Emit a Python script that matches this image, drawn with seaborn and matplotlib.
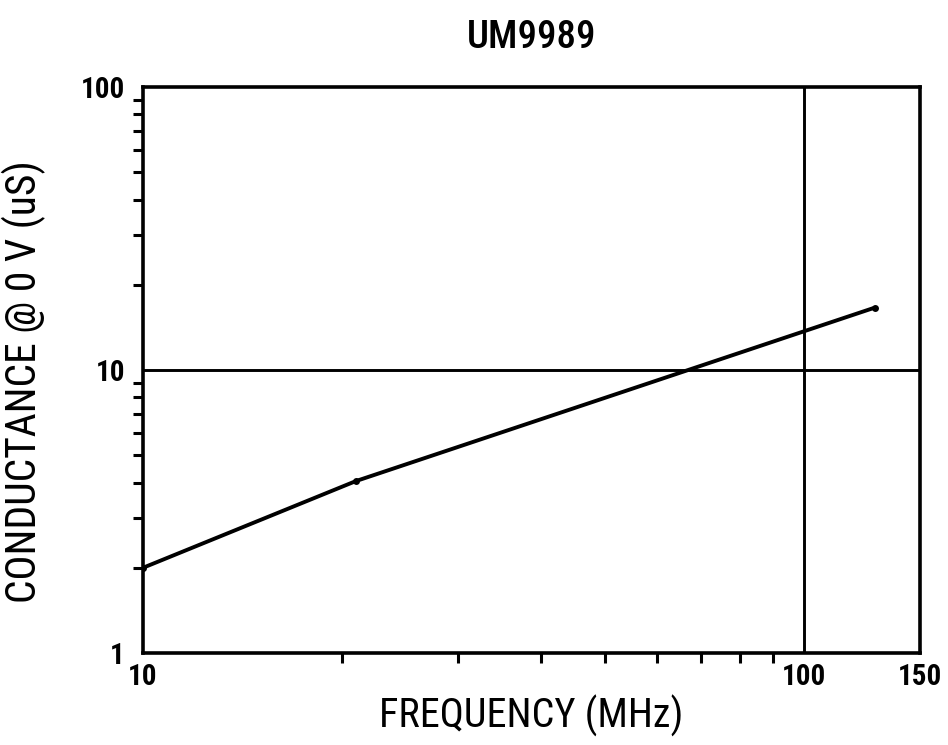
import matplotlib
matplotlib.use("Agg")
import matplotlib.pyplot as plt
import seaborn as sns
import pandas as pd
from matplotlib.ticker import FixedLocator, NullFormatter, LogLocator

freq_mhz = [10, 21, 128]
conductance_us = [2.0, 4.05, 16.6]
x_ticks = [10, 100, 150]
y_ticks = [1, 10, 100]

df = pd.DataFrame({"freq": freq_mhz, "g": conductance_us})

sns.set_style("white")
plt.rcParams['font.family'] = ['Roboto Condensed', 'DejaVu Sans']
plt.rcParams['text.color'] = 'black'
plt.rcParams['xtick.color'] = 'black'
plt.rcParams['ytick.color'] = 'black'
plt.rcParams['axes.labelcolor'] = 'black'

fig = plt.figure(figsize=(9.48, 7.45), dpi=100)
ax = fig.add_axes([0.1508, 0.1235, 0.8197, 0.7597])

sns.lineplot(data=df, x="freq", y="g", ax=ax, color="black", linewidth=2.8,
             marker="o", markersize=5, markeredgewidth=0)

ax.set_xscale("log")
ax.set_yscale("log")
ax.set_xlim(10, 150)
ax.set_ylim(1, 100)

# only the decade grid lines
ax.axvline(100, color="black", linewidth=2.1, zorder=1)
ax.axhline(10, color="black", linewidth=2.1, zorder=1)

ax.xaxis.set_major_locator(FixedLocator(x_ticks))
ax.set_xticklabels([str(t) for t in x_ticks])
ax.xaxis.set_minor_locator(LogLocator(base=10, subs=range(2, 10)))
ax.xaxis.set_minor_formatter(NullFormatter())
ax.yaxis.set_major_locator(FixedLocator(y_ticks))
ax.set_yticklabels([str(t) for t in y_ticks])
ax.yaxis.set_minor_locator(LogLocator(base=10, subs=range(2, 10)))
ax.yaxis.set_minor_formatter(NullFormatter())

ax.tick_params(axis="x", which="major", length=0, labelsize=21, pad=7)
ax.tick_params(axis="y", which="major", direction="out", length=11, width=2.4,
               labelsize=21, pad=2)
ax.tick_params(axis="x", which="minor", direction="out", length=7, width=2.2,
               bottom=True)
ax.tick_params(axis="y", which="minor", direction="out", length=7, width=2.2,
               left=True)
for lab in ax.get_xticklabels() + ax.get_yticklabels():
    lab.set_fontweight("bold")

for side in ["left", "right", "top", "bottom"]:
    ax.spines[side].set_visible(True)
    ax.spines[side].set_color("black")
    ax.spines[side].set_linewidth(2.6)

ax.set_xlabel("FREQUENCY (MHz)", fontsize=29, labelpad=3)
ax.set_ylabel("CONDUCTANCE @ 0 V (uS)", fontsize=30, labelpad=24)
ax.yaxis.set_label_coords(-0.125, 0.48)
ax.set_title("UM9989", fontsize=28, pad=28, fontweight="medium")

fig.savefig("out.png", dpi=100)
